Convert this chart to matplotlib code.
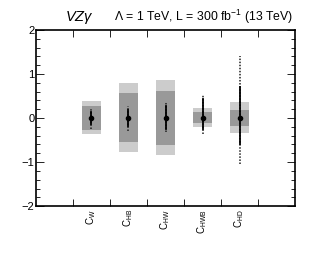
import matplotlib
matplotlib.use("Agg")
import matplotlib.pyplot as plt
import numpy as np
from matplotlib.patches import Rectangle
from matplotlib.ticker import MultipleLocator

plt.rcParams['font.family'] = ['Liberation Sans', 'DejaVu Sans']
plt.rcParams['mathtext.fontset'] = 'custom'
plt.rcParams['mathtext.rm'] = 'Liberation Sans'
plt.rcParams['mathtext.it'] = 'Liberation Sans:italic'

labels = [r'$\mathrm{C_{W}}$', r'$\mathrm{C_{HB}}$', r'$\mathrm{C_{HW}}$', r'$\mathrm{C_{HWB}}$', r'$\mathrm{C_{HD}}$']
centers = [0.0, 0.0, 0.0, 0.0, 0.0]
light_lo = [-0.36, -0.76, -0.84, -0.21, -0.33]
light_hi = [0.38, 0.79, 0.86, 0.24, 0.36]
dark_lo = [-0.26, -0.55, -0.61, -0.11, -0.17]
dark_hi = [0.27, 0.56, 0.61, 0.13, 0.19]
solid_lo = [-0.13, -0.18, -0.25, -0.24, -0.59]
solid_hi = [0.13, 0.18, 0.28, 0.43, 0.70]
dot_lo = [-0.24, -0.29, -0.31, -0.36, -1.04]
dot_hi = [0.24, 0.28, 0.36, 0.53, 1.40]

fig = plt.figure(figsize=(3.32, 2.57), dpi=100)
ax = fig.add_axes([0.108, 0.198, 0.781, 0.685])

xs = np.arange(len(labels)) + 1.5
w = 0.5
for i, x in enumerate(xs):
    ax.add_patch(Rectangle((x - w/2, light_lo[i]), w, light_hi[i] - light_lo[i],
                           facecolor='#cccccc', edgecolor='none', zorder=1))
    ax.add_patch(Rectangle((x - w/2, dark_lo[i]), w, dark_hi[i] - dark_lo[i],
                           facecolor='#999999', edgecolor='none', zorder=2))
    ax.plot([x, x], [dot_lo[i], dot_hi[i]], color='#222222', lw=1.1,
            linestyle=(0, (1, 1)), zorder=3)
    ax.plot([x, x], [solid_lo[i], solid_hi[i]], color='black', lw=1.3, zorder=4)
    ax.plot([x], [centers[i]], 'o', color='black', ms=3, zorder=5)

ax.set_xlim(0, 7)
ax.set_ylim(-2, 2)
ax.set_xticks([1, 2, 3, 4, 5, 6])
ax.set_xticklabels([])
ax.yaxis.set_major_locator(MultipleLocator(1))
ax.yaxis.set_minor_locator(MultipleLocator(0.2))
ax.tick_params(axis='both', which='both', direction='in', top=True, right=True)
ax.tick_params(axis='x', which='major', length=5, width=0.6)
ax.tick_params(axis='y', which='major', length=6, width=0.6, labelsize=8, pad=1)
ax.tick_params(axis='y', which='minor', length=3, width=0.6)
for s in ax.spines.values():
    s.set_linewidth(1.2)

for x, lab in zip(xs, labels):
    ax.text(x, -2.07, lab, rotation=90, ha='center', va='top', fontsize=7)

fig.text(0.238, 0.9, r'$VZ\gamma$', fontsize=10.5, ha='center', va='bottom')
fig.text(0.884, 0.9, r'$\Lambda$ = 1 TeV, L = 300 fb$^{-1}$ (13 TeV)', fontsize=8.8,
         ha='right', va='bottom')

fig.savefig('out.png', dpi=100)
